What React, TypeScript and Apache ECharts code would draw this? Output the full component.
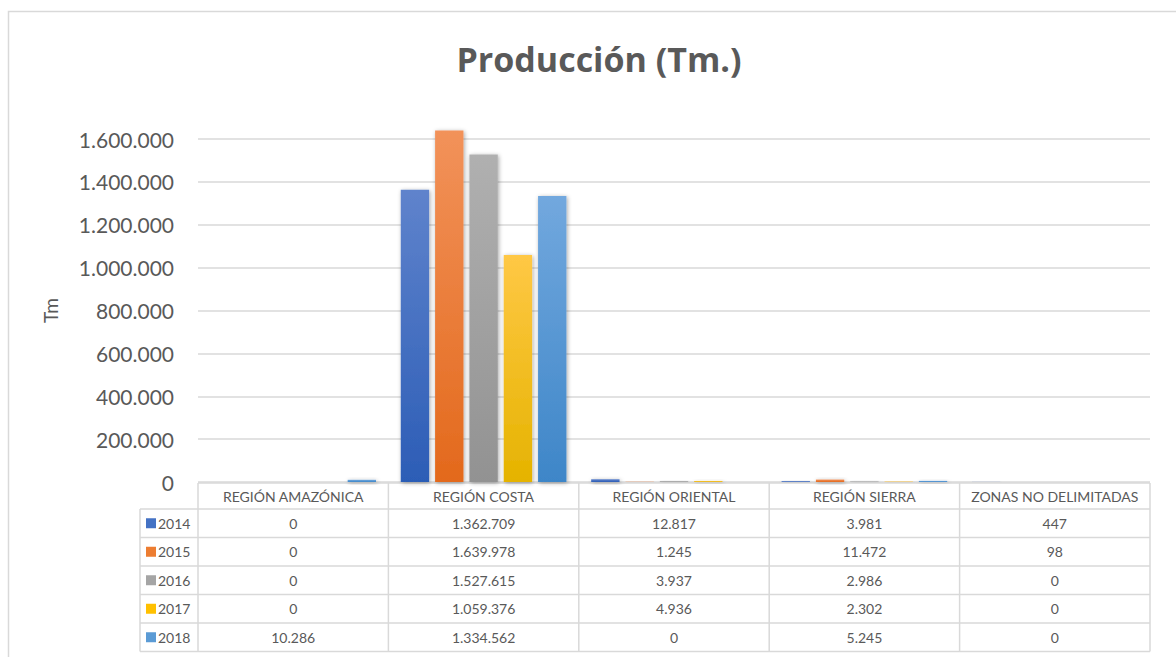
import React, { useEffect, useRef } from "react";
import * as echarts from "echarts";

const categories = ["REGIÓN AMAZÓNICA", "REGIÓN COSTA", "REGIÓN ORIENTAL", "REGIÓN SIERRA", "ZONAS NO DELIMITADAS"];
const years = ["2014", "2015", "2016", "2017", "2018"];
const v2014 = [0, 1362709, 12817, 3981, 447];
const v2015 = [0, 1639978, 1245, 11472, 98];
const v2016 = [0, 1527615, 3937, 2986, 0];
const v2017 = [0, 1059376, 4936, 2302, 0];
const v2018 = [10286, 1334562, 0, 5245, 0];
const seriesValues = [v2014, v2015, v2016, v2017, v2018];
const yTicks = { min: 0, max: 1600000, interval: 200000 };

const topColors = ["#5F83CC", "#F2925A", "#B0B0B0", "#FFC845", "#72A8DE"];
const bottomColors = ["#2C5DB6", "#E3691C", "#929292", "#E5B300", "#3E86C8"];
const keyColors = ["#4472C4", "#ED7D31", "#A5A5A5", "#FFC000", "#5B9BD5"];

const fmt = (v: number) => String(v).replace(/\B(?=(\d{3})+(?!\d))/g, ".");

const FONT = "Lato, 'Open Sans', sans-serif";
const W = 1176;
const H = 657;
const GL = 198;
const GR = 1150;
const GT = 139;
const GB = 482;
const LINE = "#D9D9D9";
const TXT = "#595959";

export default function App() {
  const ref = useRef<HTMLDivElement>(null);
  useEffect(() => {
    if (!ref.current) return;
    const chart = echarts.init(ref.current, undefined, { renderer: "svg" });
    const colW = (GR - GL) / categories.length;
    const headTop = GB + 1;
    const headBot = 509;
    const rowH = 28.5;
    const legLeft = 140;
    const graphic: any[] = [];
    graphic.push({
      type: "rect",
      shape: { x: 8.5, y: 11.5, width: 1200, height: 700 },
      style: { fill: "none", stroke: LINE, lineWidth: 1.5 },
      silent: true,
    });
    const tableBottom = headBot + rowH * years.length;
    graphic.push({ type: "line", shape: { x1: GL, y1: headTop, x2: GR, y2: headTop }, style: { stroke: LINE, lineWidth: 1.5 } });
    for (let r = 0; r <= years.length; r++) {
      const y = headBot + r * rowH;
      graphic.push({ type: "line", shape: { x1: legLeft, y1: y, x2: GR, y2: y }, style: { stroke: LINE, lineWidth: 1.5 } });
    }
    graphic.push({ type: "line", shape: { x1: legLeft, y1: headBot, x2: legLeft, y2: tableBottom }, style: { stroke: LINE, lineWidth: 1.5 } });
    for (let c = 0; c <= categories.length; c++) {
      const x = GL + c * colW;
      graphic.push({ type: "line", shape: { x1: x, y1: headTop, x2: x, y2: tableBottom }, style: { stroke: LINE, lineWidth: 1.5 } });
    }
    categories.forEach((cat, c) => {
      graphic.push({
        type: "text",
        x: GL + (c + 0.5) * colW,
        y: (headTop + headBot) / 2,
        style: { text: cat, fill: TXT, font: `14px ${FONT}`, textAlign: "center", textVerticalAlign: "middle" },
      });
    });
    years.forEach((yr, r) => {
      const cy = headBot + (r + 0.5) * rowH;
      graphic.push({
        type: "rect",
        shape: { x: 146, y: cy - 5, width: 10, height: 10 },
        style: { fill: keyColors[r] },
      });
      graphic.push({
        type: "text",
        x: 158,
        y: cy,
        style: { text: yr, fill: TXT, font: `14px ${FONT}`, textAlign: "left", textVerticalAlign: "middle" },
      });
      seriesValues[r].forEach((v, c) => {
        graphic.push({
          type: "text",
          x: GL + (c + 0.5) * colW,
          y: cy,
          style: { text: fmt(v), fill: TXT, font: `14px ${FONT}`, textAlign: "center", textVerticalAlign: "middle" },
        });
      });
    });

    chart.setOption({
      animation: false,
      backgroundColor: "#ffffff",
      title: {
        text: "Producción (Tm.)",
        left: 594,
        top: 37,
        textAlign: "center",
        textStyle: { fontFamily: "'Open Sans', sans-serif", fontWeight: "bold", fontSize: 34, color: TXT },
      },
      grid: { left: GL, right: W - GR, top: GT, bottom: H - GB, containLabel: false },
      xAxis: {
        type: "category",
        data: categories,
        axisLine: { show: false },
        axisTick: { show: false },
        axisLabel: { show: false },
      },
      yAxis: {
        type: "value",
        min: yTicks.min,
        max: yTicks.max,
        interval: yTicks.interval,
        name: "Tm",
        nameLocation: "middle",
        nameGap: 138,
        nameRotate: 90,
        nameTextStyle: { fontFamily: FONT, fontSize: 19, color: TXT },
        axisLine: { show: false },
        axisTick: { show: false },
        axisLabel: {
          margin: 24,
          fontFamily: FONT,
          fontSize: 21,
          color: TXT,
          formatter: (v: number) => fmt(v),
        },
        splitLine: { lineStyle: { color: LINE, width: 1.5 } },
      },
      series: years.map((yr, i) => ({
        name: yr,
        type: "bar",
        data: seriesValues[i],
        clip: false,
        barGap: "21%",
        barCategoryGap: "13%",
        itemStyle: {
          color: new echarts.graphic.LinearGradient(0, 0, 0, 1, [
            { offset: 0, color: topColors[i] },
            { offset: 1, color: bottomColors[i] },
          ]),
          shadowBlur: 4,
          shadowColor: "rgba(0,0,0,0.35)",
          shadowOffsetX: 1,
          shadowOffsetY: 1,
        },
      })),
      graphic,
    });
    return () => chart.dispose();
  }, []);
  return (
    <div
      ref={ref}
      style={{ position: "absolute", left: 0, top: 0, width: W, height: H, background: "#fff" }}
    />
  );
}
